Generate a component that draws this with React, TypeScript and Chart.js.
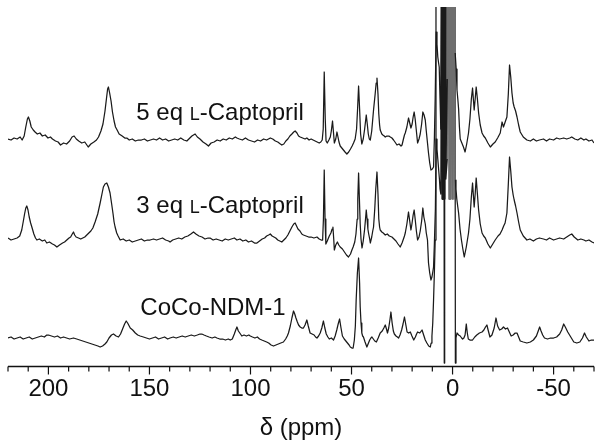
import React, { useEffect, useRef } from 'react';
import { Chart, registerables } from 'chart.js';

Chart.register(...registerables);

// ---- axis ----
const PPM_MIN = -70;
const PPM_MAX = 220;
const TICK_STEP = 10;
const LABELED_TICKS = [200, 150, 100, 50, 0, -50];
const AXIS_TITLE = 'δ (ppm)';

// ---- series names (prefix, small-caps letter, suffix) ----
const labelParts: [string, string, string][] = [
  ['5 eq ', 'L', '-Captopril'],
  ['3 eq ', 'L', '-Captopril'],
  ['CoCo-NDM-1', '', ''],
];

// vertical stacking offsets of the three traces (intensity units)
const stackOffsets = [228, 128, 29];

// ---- spectra: [ppm, intensity relative to own baseline] ----
const spectrum5eq: [number, number][] = [
  [220, 0], [218.5, -1], [217, 1], [215.5, 0], [214, 2], [213, -1], [212, 3], [211.2, 12], [210.4, 20], [209.9, 22],
  [209.2, 18], [208.5, 12], [207.5, 9], [206.6, 7], [205.5, 5], [204.2, 6], [203, 3], [201.6, 4], [200.2, 1], [199, 2],
  [198, 0], [196.5, -2], [195.2, -3], [194, -6], [192.5, -4], [191, -5], [189.5, -2], [188.3, 2], [187.3, 3], [186.2, 0],
  [185, -2], [183.5, -4], [182, -3], [180.3, -8], [179, -5], [177.5, -3], [176.2, -1], [175.2, 2], [174, 8], [173, 15],
  [172, 28], [171.3, 40], [170.7, 50], [170.3, 52], [169.7, 46], [169, 38], [168.3, 27], [167.5, 18], [166.8, 12], [166, 9],
  [165, 5], [163.5, 3], [162.2, 1], [161.2, 1], [160, -1], [158.5, 0], [157, -2], [155.5, -1], [154, -1], [152.5, 0],
  [151, -2], [149.5, -1], [148, 0], [146.5, -1], [145, 1], [143.5, -1], [142, 0], [140.5, -2], [139, -1], [137.5, 0],
  [136, -1], [134.5, 1], [133, -1], [131.5, -2], [130, 1], [129, 3], [128.2, 4], [127.4, 5], [126.3, 2], [125, 0],
  [123.5, -3], [122, -5], [120.8, -7], [119.5, -4], [118, -3], [116.5, -1], [115, -2], [113.5, 0], [112, -1], [110.5, 1],
  [109, 0], [107.5, 2], [106.7, 1], [105.5, 0], [104, -1], [102.5, 1], [101, -1], [99.5, -2], [98, -3], [96.5, -1],
  [95, -2], [93.5, 0], [92, -1], [90.2, 1], [89, 0], [87.7, -2], [86.5, -3], [85.2, -5], [84.5, -6], [83.5, -5],
  [82.5, -2], [81.5, 0], [80.5, 3], [79.5, 5], [78.6, 7], [77.9, 8], [77, 6], [76.2, 3], [75.4, 2], [74.2, 1],
  [73, 0], [72.1, 1], [71, -1], [70, 0], [69, -1], [68, -2], [67, -3], [66, -4], [65.2, -3], [64.5, -1],
  [64, 10], [63.5, 67], [63, 20], [62.6, -2], [62, -4], [61.2, -1], [60.5, 2], [60, 8], [59.4, 18], [58.9, 6],
  [58.5, -4], [57.8, 0], [57.2, 7], [56.7, 2], [56.2, -3], [55.6, -7], [54.8, -9], [54, -11], [53.2, -13], [52.3, -15],
  [51.4, -13], [50.5, -10], [49.7, -7], [49, -4], [48.2, 0], [47.5, 10], [47, 30], [46.5, 53], [46, 30], [45.5, 5],
  [44.9, -5], [44.2, 0], [43.5, 10], [42.7, 24], [42.2, 15], [41.7, 5], [41.2, 0], [40.7, -1], [40, 8], [39.1, 29],
  [38.3, 45], [37.8, 56], [37.4, 61], [36.9, 45], [36.5, 25], [36.1, 14], [35.8, 9], [35, 5], [34.5, 4], [33.8, 3],
  [33.3, 2], [32.5, 3], [31.5, 3], [30.8, 2], [30, 1], [29.2, -1], [28.5, -3], [27.5, -6], [26.5, -5], [25.5, -7],
  [25, -6], [24.3, 0], [23.8, 4], [23.4, 6], [22.6, 12], [21.8, 21], [21.2, 16], [20.6, 11], [20, 15], [19.5, 22],
  [19, 27], [18.5, 20], [18, 10], [17.3, -4], [16.6, 0], [16, 5], [15.3, 15], [14.7, 27], [14.1, 24], [13.5, 19],
  [13, 8], [12.4, -4], [11.9, -14], [11.3, -24], [10.7, -31], [10, -30], [9.4, -28], [9, 0], [8.6, 40], [8.1, 107],
  [7.7, 95], [7.3, 82], [6.9, 76], [6.6, 72], [6.2, 40], [5.8, 10],
  [5.4, 250], [5.1, -60], [4.8, 250], [4.5, -60], [4.2, 250], [3.9, -60], [3.6, 250], [3.3, -30],
  [2.6, 60], [2.1, 250], [1.7, -60], [1.3, 250], [0.9, -60], [0.5, 250], [0.1, -60], [-0.3, 250], [-0.7, -60], [-1.1, 250],
  [-1.3, 86], [-1.8, 70], [-2.2, 49], [-2.6, 40], [-3.0, 30], [-3.4, 12], [-3.8, 0], [-4.6, -4], [-5.4, -8], [-6.2, -13],
  [-7.0, -5], [-7.9, 6], [-8.6, 20], [-9.3, 40], [-9.9, 51], [-10.3, 40], [-10.7, 29], [-11.2, 40], [-11.7, 52], [-12.3, 40],
  [-12.9, 26], [-13.7, 14], [-14.6, 6], [-15.4, 3], [-16.2, 1], [-17.5, -4], [-18.7, -8], [-20, -5], [-21.1, -3], [-22.3, 1],
  [-23.6, 6], [-24.5, 17], [-25.2, 12], [-26.2, 18], [-26.9, 22], [-27.6, 45], [-28.2, 74], [-28.8, 62], [-29.4, 46], [-30, 36],
  [-30.5, 32], [-31.2, 28], [-31.9, 22], [-32.7, 14], [-33.5, 7], [-35, 2], [-36.8, -1], [-38.5, -2], [-40, 0], [-41.5, -2],
  [-43, -1], [-45, 0], [-46.5, -2], [-48, 0], [-50, -1], [-51.5, 1], [-53, 0], [-55, 1], [-56.5, 0], [-58, 1],
  [-59, 2], [-60.5, 0], [-62, -1], [-63.5, 1], [-65, -1], [-66, 0], [-67.5, -2], [-69, -1], [-70, -4],
];

const spectrum3eq: [number, number][] = [
  [220, 1], [218.5, -1], [217, 0], [215.5, 1], [214.2, 3], [213.2, 9], [212.4, 18], [211.8, 25], [211.2, 31], [210.7, 33],
  [210.1, 29], [209.5, 22], [208.8, 16], [208.2, 12], [207.2, 5], [206.4, 1], [205.7, -1], [204.5, 0], [203, -2], [201.8, -1],
  [200.8, -4], [199.5, -3], [198, -5], [197, -6], [195.8, -8], [194.5, -6], [193, -4], [192, -3], [190.9, -1], [189.8, 1],
  [189, 2], [188.2, 5], [187.6, 7], [187, 4], [186.3, 2], [185.1, 1], [184, 0], [183, 1], [182, 2], [181, 4],
  [180, 6], [179, 8], [178, 11], [176.9, 17], [175.6, 25], [174.4, 36], [173.5, 45], [172.8, 52], [172, 55], [171.1, 56],
  [170.3, 52], [169.5, 46], [168.7, 35], [168, 25], [167.5, 17], [167, 12], [166.2, 6], [165.5, 3], [164.5, -1], [163, 0],
  [161.5, -2], [160, -1], [158.5, -3], [157, -2], [155.5, -1], [154, 0], [152.5, -2], [151, -1], [149.7, -1], [148, 0],
  [146.5, -1], [145, 0], [143.5, 1], [142, -1], [140.5, -2], [139.8, -3], [138.5, -1], [137, 0], [135.5, 1], [134, 0],
  [132.5, 2], [131, 3], [129.5, 5], [128.2, 7], [127, 5], [125.5, 3], [124, 2], [122.5, 0], [121, 1], [120, 1],
  [118.5, -1], [117, 0], [115.5, -1], [114, -2], [112.5, 0], [111, -1], [109.5, 0], [108, 1], [106.7, -1], [105.2, 0],
  [103.8, -2], [102.3, -1], [101, -3], [99.5, -2], [98, -4], [96.8, -4], [95.5, -2], [94.2, 0], [93, 1], [92, 3],
  [91, 4], [90.2, 5], [89.3, 3], [88.4, 2], [87.5, 1], [86.5, -1], [85.5, -2], [84.5, -3], [83.5, -1], [82.5, 1],
  [81.5, 4], [80.5, 8], [79.5, 12], [78.6, 15], [77.9, 16], [77.2, 13], [76.5, 10], [75.5, 8], [74.6, 5], [73.8, 4],
  [72.5, 3], [71.2, 2], [70, 2], [68.6, 1], [67.1, 2], [66, 0], [65, -1], [64.3, -1], [63.9, 20], [63.5, 69],
  [63.1, 20], [62.7, -5], [62, -2], [61, 3], [60.2, 6], [59.6, 10], [59.2, 12], [58.8, 0], [58.5, -11], [57.8, -6],
  [57, -3], [56.3, -6], [55.6, -8], [54.5, -10], [53.5, -13], [52.5, -16], [51.5, -18], [50.5, -15], [49.8, -11], [49.2, -8],
  [48.4, -3], [47.8, 5], [47.2, 20], [46.9, 40], [46.5, 66], [46.1, 40], [45.7, 15], [45.3, 0], [44.8, -9], [44.2, -2],
  [43.5, 10], [42.9, 24], [42.7, 29], [42.3, 20], [41.9, 10], [41.5, 5], [41, 0], [40.7, -4], [40, 2], [39.5, 8],
  [39.1, 12], [38.5, 30], [38, 50], [37.4, 67], [36.9, 45], [36.5, 20], [36.1, 12], [35.8, 9], [35, 7], [34.3, 6],
  [33.3, 4], [32.3, 5], [31.3, 3], [30, 2], [29, 0], [28, -2], [27, -5], [25.9, -8], [25, -4], [24.3, 0],
  [23.8, 3], [23.4, 6], [22.6, 15], [21.8, 27], [21.2, 18], [20.6, 9], [20.1, 15], [19.5, 24], [19, 29], [18.5, 20],
  [17.9, 8], [17.3, -1], [16.6, 2], [16, 8], [15.3, 18], [14.7, 31], [14.2, 22], [13.5, 15], [13, 6], [12.4, -1],
  [11.9, -24], [11.3, -34], [10.7, -41], [10.2, -38], [9.7, -32], [9.4, -28], [9, -5], [8.5, 30], [8.1, 100], [7.7, 90],
  [7.3, 80], [6.9, 70], [6.5, 60], [6.2, 50], [5.8, 45],
  [5.4, 300], [5.1, 40], [4.8, 300], [4.5, 40], [4.2, 300], [3.9, 40], [3.6, 300], [3.3, 60],
  [2.6, 80], [2.1, 300], [1.7, 40], [1.3, 300], [0.9, 40], [0.5, 300], [0.1, 40], [-0.3, 300], [-0.7, 40], [-1.1, 300],
  [-1.3, 59], [-1.7, 50], [-2.1, 40], [-2.6, 32], [-3, 26], [-3.7, 10], [-4.4, -1], [-5.1, -10], [-5.8, -18], [-6.8, -8],
  [-7.9, 6], [-8.6, 20], [-9.3, 42], [-9.9, 56], [-10.3, 44], [-10.7, 32], [-11.2, 45], [-11.7, 61], [-12.3, 45], [-12.9, 29],
  [-13.7, 15], [-14.6, 6], [-15.4, 3], [-16.2, 1], [-17.5, -5], [-18.7, -9], [-19.9, -5], [-21.1, -1], [-22.5, 3], [-23.5, 5],
  [-24.5, 9], [-25.3, 13], [-26, 16], [-26.9, 26], [-27.6, 55], [-28.2, 82], [-28.8, 68], [-29.4, 52], [-30, 44], [-30.5, 39],
  [-31.2, 33], [-31.9, 26], [-32.7, 17], [-33.5, 9], [-35, 3], [-36.8, -1], [-38.3, 0], [-40, -2], [-41.5, 0], [-43, 1],
  [-45, 0], [-46.5, -1], [-48, 1], [-50, -1], [-51.5, 0], [-53, 1], [-55, 0], [-56.5, 2], [-58, 4], [-59, 5],
  [-60.2, 2], [-62, -1], [-63.5, 0], [-65, -1], [-66, -2], [-67.5, -1], [-69, -3], [-70, -4],
];

const spectrumCoCo: [number, number][] = [
  [220, 0], [218.5, 1], [217, -1], [215.5, 0], [214, 1], [212.5, -1], [211, 0], [209.5, 1], [208, -1], [206.5, 0],
  [205, 1], [203.5, 2], [202, 1], [200.8, 3], [200, 3], [198.5, 2], [197, 1], [195.5, 2], [194, 0], [192.5, 1],
  [191, 0], [189.5, -1], [187.6, 0], [186, -1], [184.5, -2], [183, -3], [181.5, -4], [180, -5], [178.5, -6], [177, -7],
  [175.5, -8], [174.4, -9], [173.2, -8], [172, -6], [171.1, -4], [170, 0], [168.8, 3], [167.8, 4], [166.5, 2], [165.3, 1],
  [164.3, 4], [163.3, 9], [162.3, 14], [161.5, 17], [160.8, 15], [159.5, 10], [158.3, 8], [157, 5], [155.8, 3], [154.6, 2],
  [153, 1], [151.5, 0], [150, -1], [148.5, 0], [147, 1], [145.5, -1], [144, 0], [142.5, 1], [141, -1], [139.8, 0],
  [138.2, 1], [136.8, 0], [135.3, 1], [133.8, 2], [132.3, 1], [130.8, 2], [129.3, 3], [127.8, 2], [126.3, 3], [125, 4],
  [124.1, 4], [123, 3], [121.8, 2], [120.5, 1], [119, 0], [117.6, 1], [116.6, 0], [115.2, -1], [113.8, -1], [112.4, -2],
  [111, -1], [110, -2], [109, -1], [108, 4], [107.3, 8], [106.7, 11], [106, 7], [105.3, 5], [104.3, 2], [103.2, 3],
  [102, 2], [100.8, 3], [100.1, 2], [99, 1], [97.8, 0], [96.6, 1], [95.5, -1], [94.4, -2], [93.2, -3], [92, -4],
  [91, -5], [89.8, -7], [88.6, -8], [87.4, -7], [86.2, -6], [85, -5], [83.7, -4], [82.6, -1], [81.8, 2], [81.2, 5],
  [80.3, 12], [79.5, 20], [78.7, 27], [78.1, 24], [77.5, 20], [76.8, 16], [76.2, 13], [75.4, 11], [74.6, 10], [73.8, 10],
  [73, 13], [72.1, 18], [71.4, 12], [70.5, 5], [69.5, 4], [68.5, 3], [67.8, 1], [67.1, 0], [66.3, 2], [65.5, 5],
  [64.7, 10], [63.9, 17], [63.2, 10], [62.5, 4], [61.7, 1], [61, -1], [60, 0], [58.9, -2], [58.1, 2], [57.3, 8],
  [56.6, 14], [55.9, 19], [55.2, 10], [54.5, 2], [53.6, -1], [52.8, -3], [52, -5], [51.2, -7], [50.6, -9], [49.8, -10],
  [49.2, -10], [48.6, -2], [48.1, 12], [47.7, 38], [47.1, 65], [46.5, 80], [46, 55], [45.7, 31], [45.3, 15], [44.9, 5],
  [44.5, 2], [44.1, 1], [43.3, -4], [42.4, -9], [41.6, -5], [41, -2], [40.4, 0], [39.9, 1], [39.2, -1], [38.5, -3],
  [37.7, -4], [36.8, 0], [35.8, 5], [34.8, 7], [34, 10], [33.3, 13], [32.7, 9], [32.2, 5], [31.6, 10], [31, 18],
  [30.5, 26], [29.9, 15], [29.3, 7], [28.8, 4], [28, 2], [27.3, 1], [26.7, 0], [26, 3], [25.2, 8], [24.5, 14],
  [23.8, 21], [23.1, 13], [22.5, 6], [21.7, 5], [20.9, 6], [20.1, 2], [19.2, -2], [18.4, 1], [17.8, 4], [17.3, 6],
  [16.2, 5], [15.1, 8], [14.3, 3], [13.5, -2], [12.7, -5], [11.8, -8], [11, -9], [10.6, -5], [10.2, 2], [9.8, 15],
  [9.4, 38], [9, 65], [8.6, 98], [8.2, 400], [4.3, 400], [4.1, -25], [3.9, 400], [-1.2, 400], [-1.4, -25], [-1.7, 0],
  [-2.2, 5], [-3, 3], [-3.8, 2], [-4.5, 0], [-5, -1], [-5.6, 0], [-6.2, 3], [-6.8, 14], [-7.3, 5], [-7.8, -1],
  [-8.6, -2], [-9.9, -2], [-11, 1], [-12, 3], [-13.3, 5], [-14.6, 6], [-15.5, 8], [-16.3, 11], [-17, 13], [-17.6, 8],
  [-18.5, 1], [-19.5, 3], [-20.6, 10], [-21.5, 20], [-22.3, 12], [-23.3, 8], [-24.3, 9], [-25.2, 11], [-26.2, 9], [-27.2, 10],
  [-28.1, 6], [-29, 2], [-30, 3], [-31, 5], [-31.9, 5], [-32.7, 1], [-33.5, -3], [-35, -4], [-36.8, -5], [-38.5, -4],
  [-40, -2], [-41.5, 2], [-42.4, 7], [-43.1, 11], [-43.8, 7], [-44.6, 3], [-45.5, 0], [-47, -1], [-48.5, 0], [-50, 0],
  [-51.5, 1], [-53, 4], [-54, 8], [-55, 14], [-55.8, 11], [-57, 6], [-58.5, 1], [-60, -4], [-61.5, -5], [-63, -4],
  [-64.3, 0], [-65.3, 5], [-66.2, 1], [-67.5, -3], [-68.7, -2], [-70, -2],
];

const spectra = [spectrum5eq, spectrum3eq, spectrumCoCo];

// label anchors (ppm of text start, intensity of text baseline)
const labelStartPpm = [156.5, 156.5, 154.5];
const labelBaselineValue = [247, 154, 52];

const FONT = '"Liberation Sans", Arial, Helvetica, sans-serif';
const INK = '#111111';
const LINE = '#1a1a1a';
const LIGHT_LINE = '#6e6e6e';

export default function App() {
  const ref = useRef<HTMLCanvasElement>(null);

  useEffect(() => {
    document.body.style.margin = '0';
    const canvas = ref.current;
    if (!canvas) return;

    const labelPlugin = {
      id: 'specLabels',
      afterDatasetsDraw(chart: any) {
        const { ctx, scales } = chart;
        const xs = scales.x;
        const ys = scales.y;
        ctx.save();
        ctx.fillStyle = INK;
        ctx.textBaseline = 'alphabetic';
        ctx.textAlign = 'left';
        labelParts.forEach((parts, i) => {
          let px = xs.getPixelForValue(labelStartPpm[i]);
          const py = ys.getPixelForValue(labelBaselineValue[i]);
          parts.forEach((text, j) => {
            if (!text) return;
            ctx.font = `${j === 1 ? 18 : 24}px ${FONT}`;
            ctx.fillText(text, px, py);
            px += ctx.measureText(text).width;
          });
        });
        ctx.restore();
      },
    };

    const axisPlugin = {
      id: 'ppmAxis',
      afterDraw(chart: any) {
        const { ctx, chartArea } = chart;
        const xs = chart.scales.x;
        const yAxis = Math.round(chartArea.bottom) - 0.5;
        ctx.save();
        ctx.strokeStyle = INK;
        ctx.lineWidth = 1.4;
        ctx.beginPath();
        ctx.moveTo(chartArea.left, yAxis);
        ctx.lineTo(chartArea.right, yAxis);
        ctx.stroke();
        ctx.lineWidth = 1.2;
        xs.ticks.forEach((t: any) => {
          const px = xs.getPixelForValue(t.value);
          const major = LABELED_TICKS.includes(Math.round(t.value));
          ctx.beginPath();
          ctx.moveTo(px, yAxis);
          ctx.lineTo(px, yAxis + (major ? 8 : 5));
          ctx.stroke();
        });
        ctx.restore();
      },
    };

    const chart = new Chart(canvas, {
      type: 'line',
      data: {
        datasets: spectra.map((s, i) => ({
          label: labelParts[i].join(''),
          data: s.map(([p, v]) => ({ x: p, y: v + stackOffsets[i] })),
          borderColor: LINE,
          borderWidth: 1.25,
          pointRadius: 0,
          fill: false,
          tension: 0,
          borderJoinStyle: 'round' as const,
          segment: {
            borderColor: (c: any) => {
              const a = c.p0.parsed.x;
              const b = c.p1.parsed.x;
              return a <= 2.6 && b >= -1.35 ? LIGHT_LINE : LINE;
            },
          },
        })),
      },
      options: {
        responsive: false,
        animation: false,
        devicePixelRatio: 1,
        layout: { padding: { left: 8, right: 9, top: 7, bottom: 0 } },
        plugins: {
          legend: { display: false },
          tooltip: { enabled: false },
        },
        scales: {
          x: {
            type: 'linear',
            reverse: true,
            min: PPM_MIN,
            max: PPM_MAX,
            grid: { display: false, drawTicks: false },
            border: { display: false },
            ticks: {
              stepSize: TICK_STEP,
              autoSkip: false,
              maxRotation: 0,
              minRotation: 0,
              padding: 8,
              color: INK,
              font: { family: FONT, size: 24 },
              callback: (v: any) => (LABELED_TICKS.includes(Math.round(Number(v))) ? String(Math.round(Number(v))) : ''),
            },
            title: {
              display: true,
              text: AXIS_TITLE,
              color: INK,
              font: { family: FONT, size: 24 },
              padding: { top: 0, bottom: 4 },
            },
            afterFit: (scale: any) => {
              scale.height = 80;
            },
          },
          y: { display: false, min: 0, max: 360 },
        },
      },
      plugins: [labelPlugin, axisPlugin],
    });

    return () => chart.destroy();
  }, []);

  return (
    <canvas
      ref={ref}
      width={603}
      height={447}
      style={{ display: 'block', width: 603, height: 447 }}
    />
  );
}
